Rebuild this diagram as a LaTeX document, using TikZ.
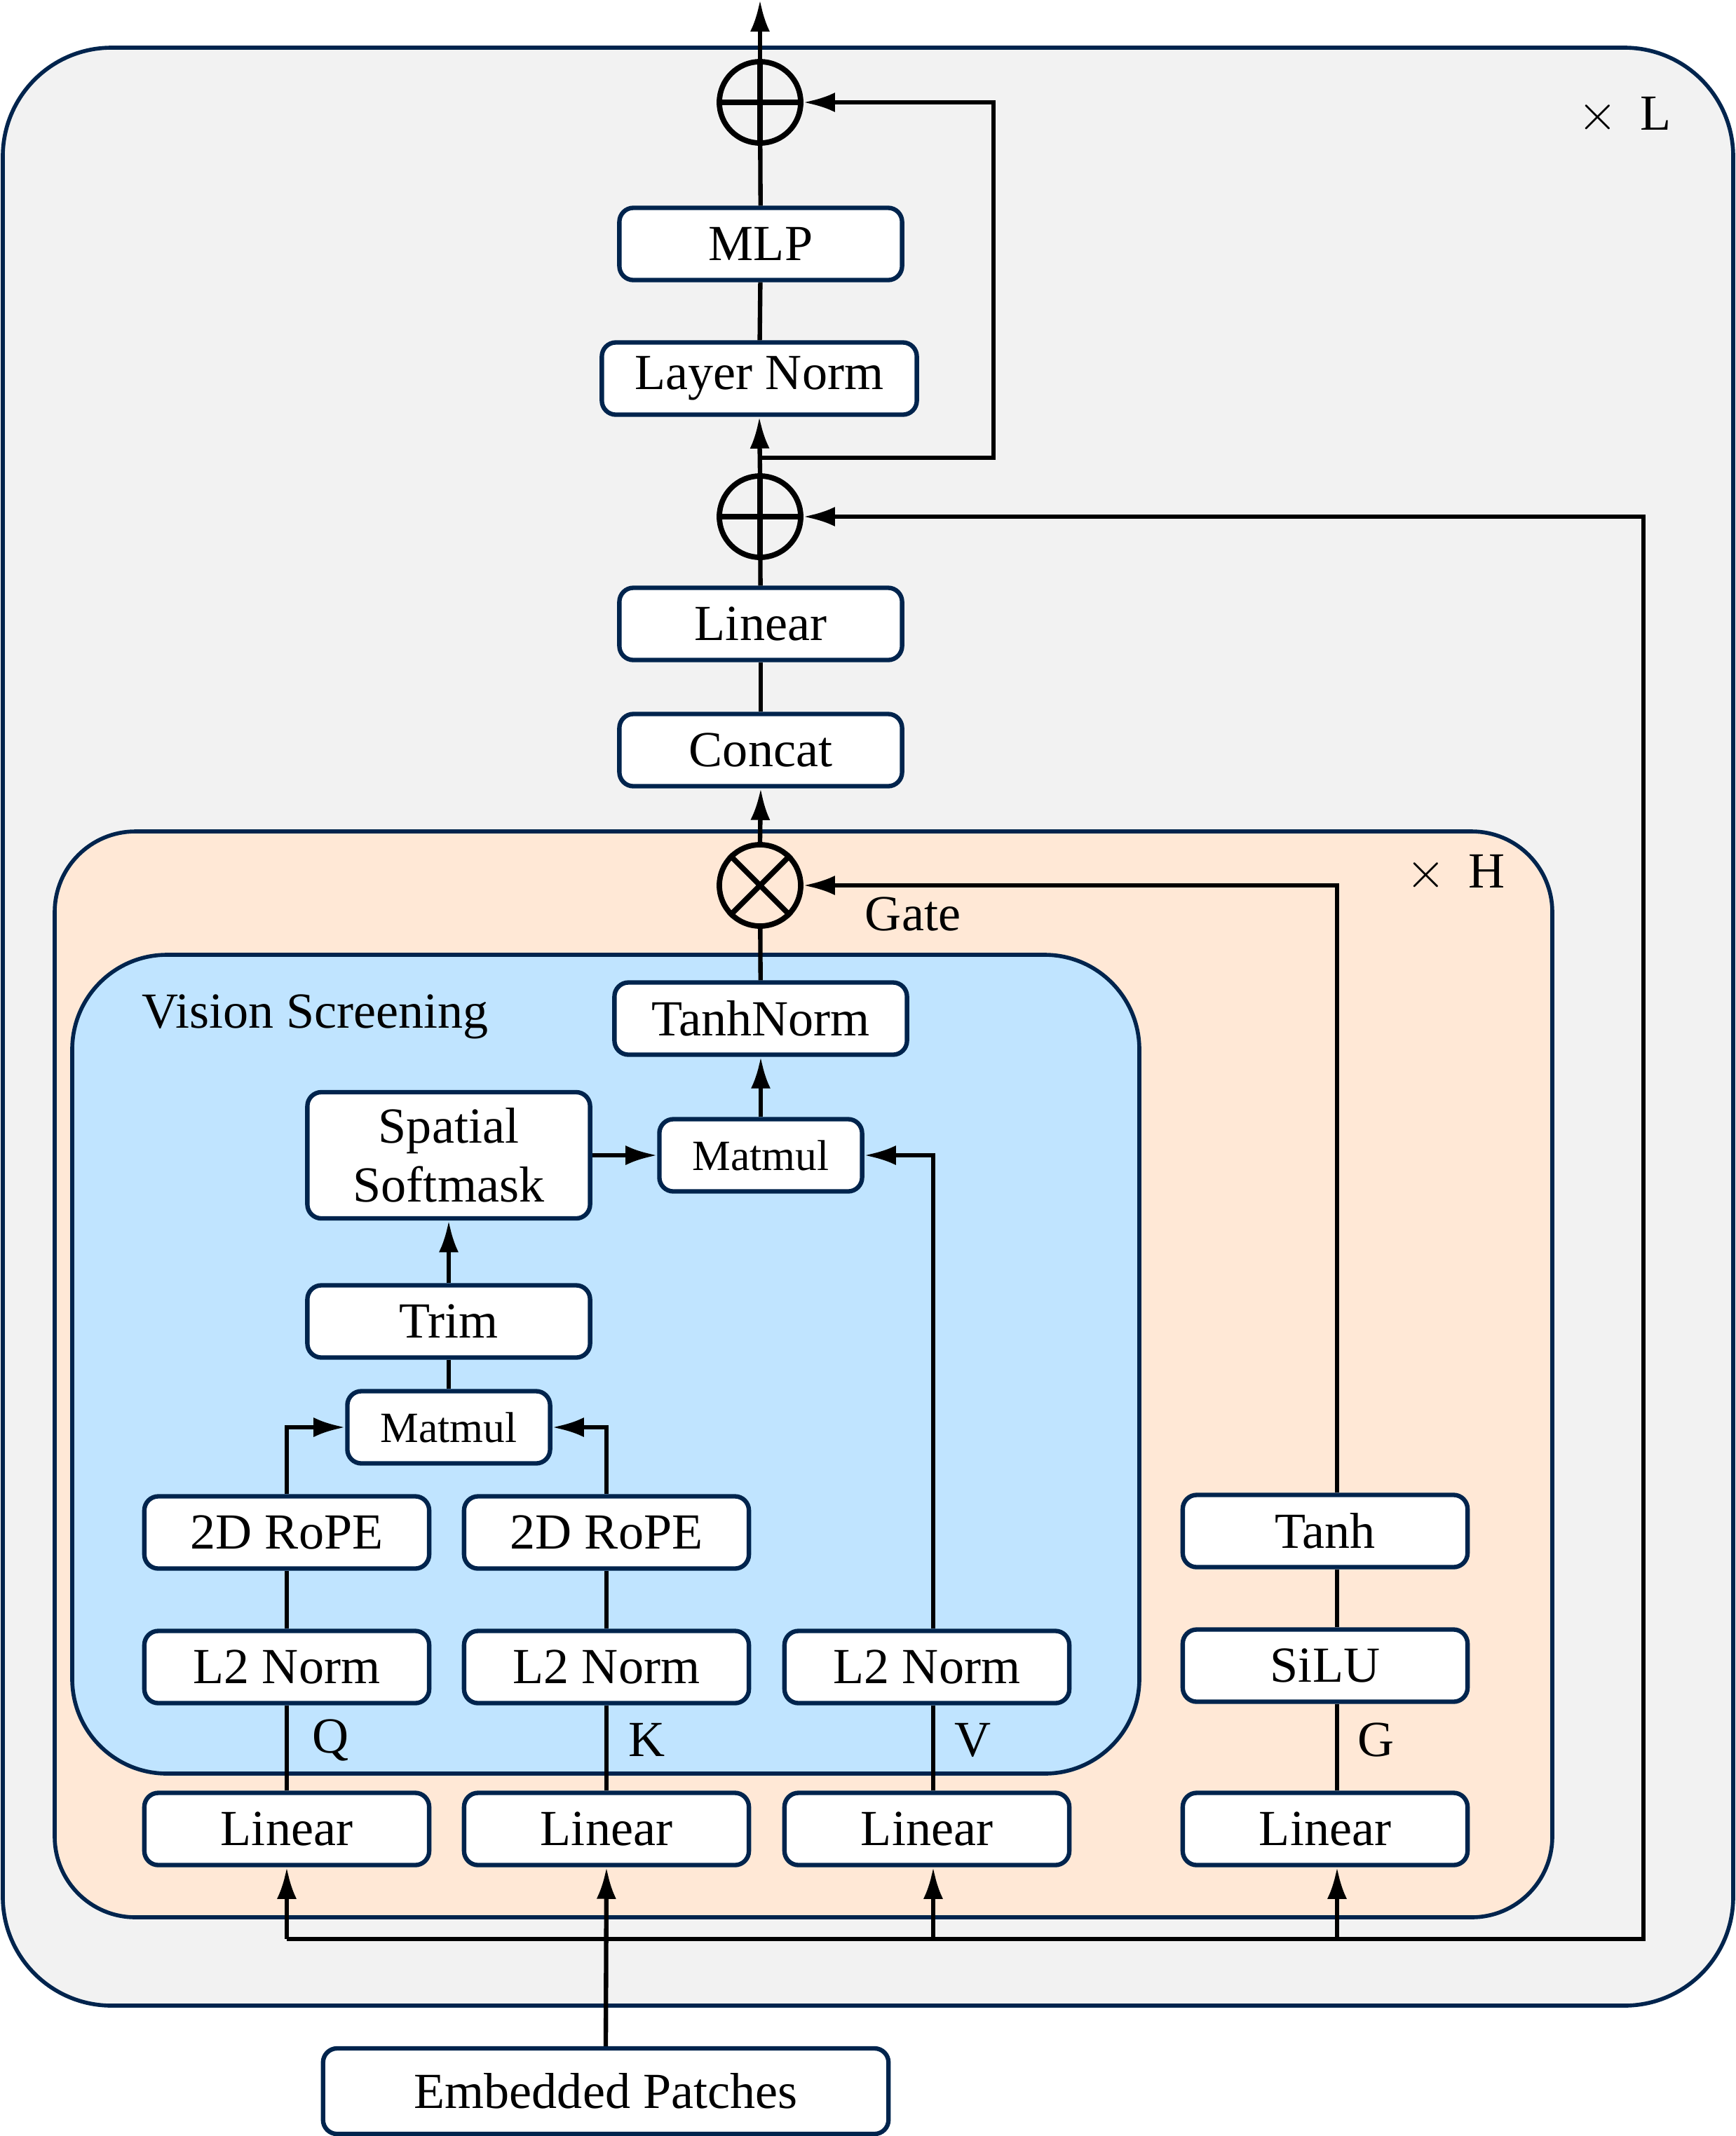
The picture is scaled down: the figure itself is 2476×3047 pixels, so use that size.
\documentclass[tikz,border=0pt]{standalone}
\usepackage{fontspec}
\setmainfont{Liberation Serif}
\usetikzlibrary{arrows.meta}
\definecolor{navy}{RGB}{0,36,77}
\definecolor{bggray}{RGB}{242,242,242}
\definecolor{bgpeach}{RGB}{255,232,214}
\definecolor{bgblue}{RGB}{192,228,255}
\tikzset{
    blk/.style={draw=navy, line width=1.8pt, fill=white, rounded corners=0.2cm, inner sep=0pt,
        minimum height=1.03cm, minimum width=4.03cm, font=\fontsize{20.5}{24}\selectfont, align=center},
    small/.style={font=\fontsize{17.5}{21}\selectfont, minimum width=2.89cm},
    op/.style={draw, circle, line width=2.2pt, minimum size=1.16cm, inner sep=0pt},
    flow/.style={line width=1.8pt},
    arr/.style={flow, -{Latex[length=0.45cm,width=0.28cm]}},
    lbl/.style={font=\fontsize{20.5}{24}\selectfont, inner sep=0pt},
    panel/.style={draw=navy, line width=1.6pt},
}
\begin{document}
\begin{tikzpicture}[x=0.01cm, y=-0.01cm]
    \useasboundingbox (0,0) rectangle (2476,3047);

    % background panels
    \draw[panel, fill=bggray, rounded corners=1.55cm] (4,68) rectangle (2472,2861);
    \draw[panel, fill=bgpeach, rounded corners=1.15cm] (78,1186) rectangle (2214,2735);
    \draw[panel, fill=bgblue, rounded corners=1.35cm] (103,1362) rectangle (1625,2530);

    \node[lbl] (repL) at (2317,165) {$\times$\hspace{0.45em}L};
    \node[lbl] (repH) at (2076,1246) {$\times$\hspace{0.45em}H};
    \node[lbl, anchor=west] (vs) at (202,1450) {Vision Screening};

    % main stack
    \node[op] (add1) at (1084,146) {};
    \node[blk] (mlp) at (1085,348) {MLP};
    \node[blk, minimum width=4.49cm] (ln) at (1083,540) {Layer Norm};
    \node[op] (add2) at (1084,737) {};
    \node[blk] (lin) at (1085,890) {Linear};
    \node[blk] (concat) at (1085,1070) {Concat};
    \node[op] (mul) at (1084,1263) {};
    \node[blk, minimum width=4.17cm] (tanhn) at (1085,1453) {TanhNorm};
    \node[blk, small] (mm2) at (1085,1648) {Matmul};
    \node[blk, minimum height=1.80cm] (soft) at (640,1648) {Spatial\\Softmask};
    \node[blk] (trim) at (640,1885) {Trim};
    \node[blk, small] (mm1) at (640,2036) {Matmul};

    % heads
    \node[blk, minimum width=4.06cm] (ropeQ) at (409,2186) {2D RoPE};
    \node[blk, minimum width=4.06cm] (ropeK) at (865,2186) {2D RoPE};
    \node[blk, minimum width=4.06cm] (l2Q) at (409,2378) {L2 Norm};
    \node[blk, minimum width=4.06cm] (l2K) at (865,2378) {L2 Norm};
    \node[blk, minimum width=4.06cm] (l2V) at (1322,2378) {L2 Norm};
    \node[blk, minimum width=4.06cm] (tanh) at (1890,2184) {Tanh};
    \node[blk, minimum width=4.06cm] (silu) at (1890,2376) {SiLU};
    \node[blk, minimum width=4.06cm] (linQ) at (409,2609) {Linear};
    \node[blk, minimum width=4.06cm] (linK) at (865,2609) {Linear};
    \node[blk, minimum width=4.06cm] (linV) at (1322,2609) {Linear};
    \node[blk, minimum width=4.06cm] (linG) at (1890,2609) {Linear};
    \node[blk, minimum width=8.06cm, minimum height=1.22cm] (emb) at (864,2983) {Embedded Patches};

    \node[lbl] (lq) at (472,2482) {Q};
    \node[lbl] (lk) at (923,2482) {K};
    \node[lbl] (lv) at (1388,2482) {V};
    \node[lbl] (lg) at (1963,2482) {G};
    \node[lbl] (lgate) at (1302,1304) {Gate};

    % operator glyphs
    \draw[line width=2.2pt] (add1.north) -- (add1.south) (add1.west) -- (add1.east);
    \draw[line width=2.2pt] (add2.north) -- (add2.south) (add2.west) -- (add2.east);
    \draw[line width=2.2pt] (mul.north east) -- (mul.south west) (mul.north west) -- (mul.south east);

    % connectors
    \coordinate (out) at (1084,0);
    \coordinate (res) at (1084,653);
    \coordinate (resTop) at (1417,146);
    \coordinate (busL) at (409,2766);
    \coordinate (busR) at (2344,2766);
    \coordinate (colV) at (1331,2766);
    \coordinate (colG) at (1907,2766);

    \draw[arr] (add1.north) -- (out);
    \draw[flow] (mlp) -- (add1);
    \draw[flow] (ln) -- (mlp);
    \draw[arr] (add2.north) -- (ln.south);
    \draw[arr] (res) -| (resTop) -- (add1.east);
    \draw[flow] (lin) -- (add2);
    \draw[flow] (concat) -- (lin);
    \draw[arr] (mul.north) -- (concat.south);
    \draw[flow] (tanhn) -- (mul);
    \draw[arr] (mm2.north) -- (tanhn.south);
    \draw[arr] (soft.east) -- (mm2.west);
    \draw[arr] (trim.north) -- (soft.south);
    \draw[flow] (mm1) -- (trim);
    \draw[arr] (ropeQ.north) |- (mm1.west);
    \draw[arr] (ropeK.north) |- (mm1.east);
    \draw[arr] (l2V.north -| colV) |- (mm2.east);
    \draw[arr] (tanh.north -| colG) |- (mul.east);
    \foreach \c in {Q,K} {
        \draw[flow] (linQ.north -| l2\c) -- (l2\c.south);
        \draw[flow] (l2\c) -- (rope\c);
    }
    \draw[flow] (linV.north -| colV) -- (l2V.south -| colV);
    \draw[flow] (linG.north -| colG) -- (silu.south -| colG);
    \draw[flow] (silu.north -| colG) -- (tanh.south -| colG);

    \draw[arr] (busL) -- (busR) |- (add2.east);
    \draw[arr] (emb.north) -- (linK.south);
    \draw[arr] (busL) -- (linQ.south);
    \draw[arr] (colV) -- (linV.south -| colV);
    \draw[arr] (colG) -- (linG.south -| colG);
\end{tikzpicture}
\end{document}
